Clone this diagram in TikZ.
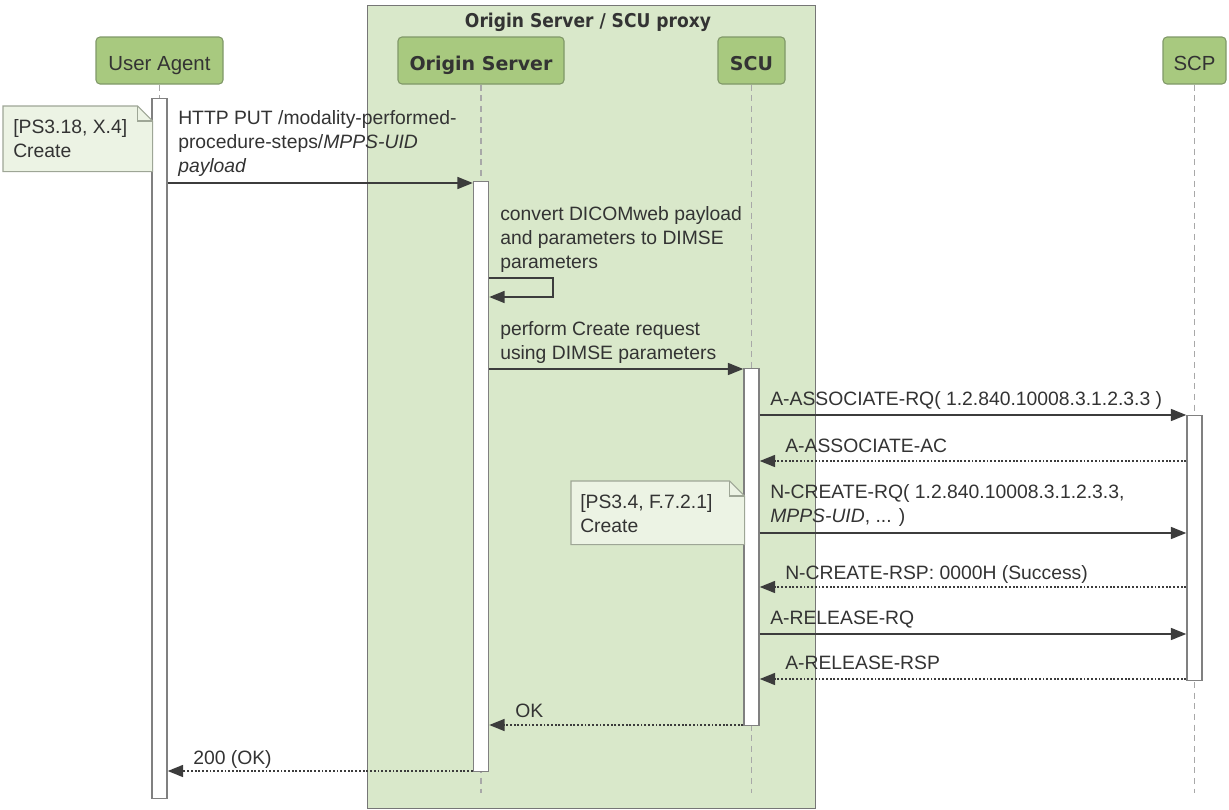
\documentclass[tikz,border=0pt]{standalone}
\usepackage{fontspec}
\setmainfont{Liberation Sans}
\newfontfamily\djv{DejaVu Sans}
\usetikzlibrary{arrows.meta}
\definecolor{partfill}{RGB}{168,201,127}
\definecolor{partdraw}{RGB}{128,152,104}
\definecolor{groupfill}{RGB}{217,232,202}
\definecolor{groupdraw}{RGB}{118,118,118}
\definecolor{notefill}{RGB}{236,243,228}
\definecolor{notedraw}{RGB}{158,166,150}
\definecolor{txt}{RGB}{51,51,51}
\definecolor{linecol}{RGB}{60,60,60}
\definecolor{lifecol}{RGB}{168,168,168}
\definecolor{actdraw}{RGB}{128,128,128}
\newcommand{\pxu}{0.75pt}
\begin{document}
\begin{tikzpicture}[x=0.75pt,y=-0.75pt,
  part/.style={draw=partdraw, fill=partfill, rounded corners=3pt, minimum height=47*\pxu, inner sep=0pt, text=txt, line width=0.8pt, text height=19*\pxu, text depth=0pt, font=\fontsize{15.3}{18}\selectfont},
  partb/.style={part, font=\djv\bfseries\fontsize{14.25}{17}\selectfont},
  groupbox/.style={draw=groupdraw, fill=groupfill, line width=0.9pt, inner sep=0pt},
  act/.style={draw=actdraw, fill=white, minimum width=15*\pxu, inner sep=0pt, line width=1.1pt},
  life/.style={draw=lifecol, line width=1.1pt, dash pattern=on 4.5pt off 3.5pt},
  req/.style={draw=linecol, line width=1.1pt, -{Triangle[length=11.5pt,width=9pt]}},
  rsp/.style={req, dash pattern=on 1.4pt off 1.4pt},
  lbl/.style={inner sep=0pt, anchor=south west, text depth=0pt, align=left, text=txt, font=\fontsize{14.5}{18}\selectfont},
  notebox/.style={inner sep=0pt, draw=none},
  noteline/.style={draw=notedraw, fill=notefill, line width=0.8pt}
]
\useasboundingbox (0,0) rectangle (1229,810);

% group
\node[groupbox, minimum width=448*\pxu, minimum height=803*\pxu, anchor=north west] (grp) at (367,5) {};
\node[anchor=base, inner sep=0pt, text=txt, font=\djv\bfseries\fontsize{14.25}{17}\selectfont] (grpt) at (588,27) {\scalebox{0.9}[1]{Origin Server / SCU proxy}};

% participants
\node[part, minimum width=127*\pxu] (ua) at (159.5,60.5) {User Agent};
\node[partb, minimum width=166*\pxu] (os) at (481,60.5) {Origin Server};
\node[partb, minimum width=67*\pxu] (scu) at (751.5,60.5) {SCU};
\node[part, minimum width=63*\pxu] (scp) at (1194.5,60.5) {SCP};

% lifelines
\coordinate (lend) at (0,793);
\draw[life] (ua) -- (ua |- lend);
\draw[life] (os) -- (os |- lend);
\draw[life] (scu) -- (scu |- lend);
\draw[life] (scp) -- (scp |- lend);

% activations
\node[act, minimum height=700*\pxu, anchor=north] (uaA) at (159.5,98) {};
\node[act, minimum height=590*\pxu, anchor=north] (osA) at (481,181) {};
\node[act, minimum height=357*\pxu, anchor=north] (scuA) at (751.5,368) {};
\node[act, minimum height=265*\pxu, anchor=north] (scpA) at (1194.5,415) {};

% note 1
\node[notebox, minimum width=149*\pxu, minimum height=65*\pxu, anchor=north west] (n1) at (3,106) {};
\draw[noteline] (n1.north west) -- ([xshift=-15*\pxu]n1.north east) -- ([yshift=-15*\pxu]n1.north east) -- (n1.south east) -- (n1.south west) -- cycle;
\draw[noteline, fill=none] ([xshift=-15*\pxu]n1.north east) -- ([xshift=-15*\pxu,yshift=-15*\pxu]n1.north east) -- ([yshift=-15*\pxu]n1.north east);
\node[lbl] (n1t) at (13,158) {[PS3.18, X.4]\\Create};

% note 2
\node[notebox, minimum width=173*\pxu, minimum height=63*\pxu, anchor=north west] (n2) at (571,481) {};
\draw[noteline] (n2.north west) -- ([xshift=-15*\pxu]n2.north east) -- ([yshift=-15*\pxu]n2.north east) -- (n2.south east) -- (n2.south west) -- cycle;
\draw[noteline, fill=none] ([xshift=-15*\pxu]n2.north east) -- ([xshift=-15*\pxu,yshift=-15*\pxu]n2.north east) -- ([yshift=-15*\pxu]n2.north east);
\node[lbl] (n2t) at (580,533) {[PS3.4, F.7.2.1]\\Create};

% message y levels
\coordinate (y1) at (0,183);
\coordinate (selfR) at (553,278);
\coordinate (y2) at (0,297);
\coordinate (y3) at (0,369);
\coordinate (y4) at (0,415);
\coordinate (y5) at (0,461);
\coordinate (y6) at (0,533);
\coordinate (y7) at (0,587);
\coordinate (y8) at (0,634);
\coordinate (y9) at (0,679);
\coordinate (y10) at (0,725);
\coordinate (y11) at (0,771);

% messages
\draw[req] (uaA.east |- y1) -- (osA.west |- y1);
\node[lbl] (m1) at (178,173) {HTTP PUT /modality-performed-\\procedure-steps/\textit{MPPS-UID}\\\textit{payload}};

\draw[req] (osA.east |- selfR) -- (selfR) -- (selfR |- y2) -- (osA.east |- y2);
\node[lbl] (m2) at (500,269) {convert DICOMweb payload\\and parameters to DIMSE\\parameters};

\draw[req] (osA.east |- y3) -- (scuA.west |- y3);
\node[lbl] (m3) at (500,360) {perform Create request\\using DIMSE parameters};

\draw[req] (scuA.east |- y4) -- (scpA.west |- y4);
\node[lbl] (m4) at (770,406) {A-ASSOCIATE-RQ( 1.2.840.10008.3.1.2.3.3 )};

\draw[rsp] (scpA.west |- y5) -- (scuA.east |- y5);
\node[lbl] (m5) at (785,453) {A-ASSOCIATE-AC};

\draw[req] (scuA.east |- y6) -- (scpA.west |- y6);
\node[lbl] (m6) at (770,523) {N-CREATE-RQ( 1.2.840.10008.3.1.2.3.3,\\\textit{MPPS-UID}, ... )};

\draw[rsp] (scpA.west |- y7) -- (scuA.east |- y7);
\node[lbl] (m7) at (785,580) {N-CREATE-RSP: 0000H (Success)};

\draw[req] (scuA.east |- y8) -- (scpA.west |- y8);
\node[lbl] (m8) at (770,625) {A-RELEASE-RQ};

\draw[rsp] (scpA.west |- y9) -- (scuA.east |- y9);
\node[lbl] (m9) at (785,670) {A-RELEASE-RSP};

\draw[rsp] (scuA.west |- y10) -- (osA.east |- y10);
\node[lbl] (m10) at (515,718) {OK};

\draw[rsp] (osA.west |- y11) -- (uaA.east |- y11);
\node[lbl] (m11) at (193,765) {200 (OK)};
\end{tikzpicture}
\end{document}
